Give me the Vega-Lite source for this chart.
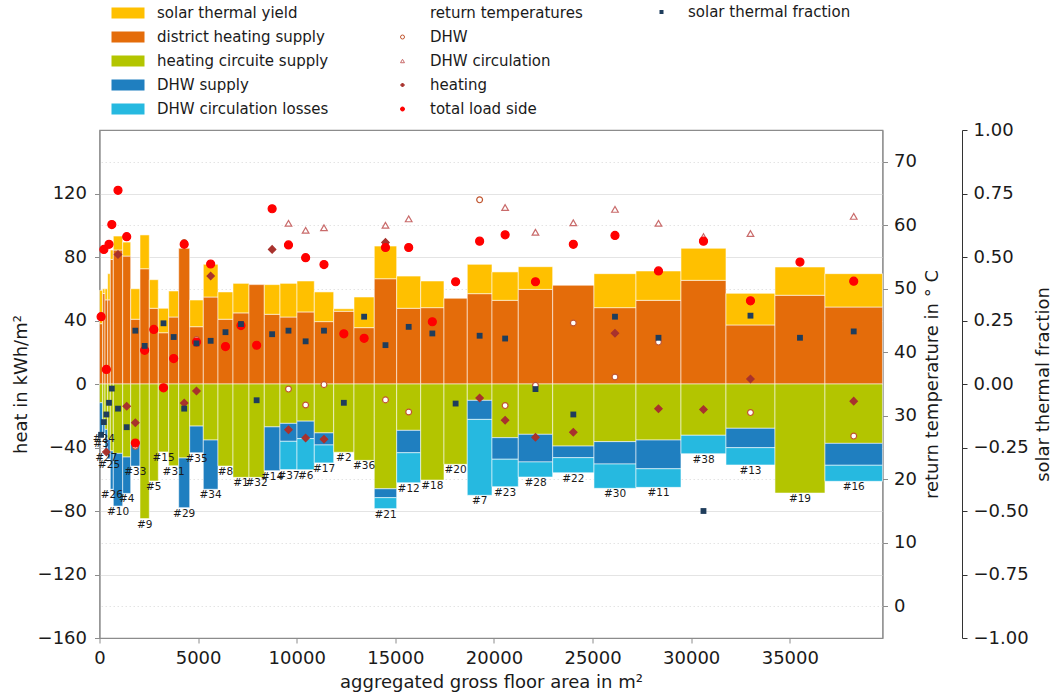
{
  "$schema": "https://vega.github.io/schema/vega-lite/v6.json",
  "width": 783,
  "height": 508,
  "autosize": {"type": "none"},
  "padding": {"left": 99.5, "top": 130, "right": 172.5, "bottom": 59},
  "datasets": {
    "buildings": [
      {"id": "#3", "from": 0, "to": 162, "solar": 21, "district": 38, "heating": -11.8, "hotwater": -22, "losses": 0, "tTotal": 45.6, "frac": -0.2},
      {"id": "#24", "from": 162, "to": 279, "solar": 3, "district": 57, "heating": -22.3, "hotwater": -8.7, "losses": 0, "tTotal": 56.2, "frac": -0.15},
      {"id": "#27", "from": 279, "to": 416, "solar": 7, "district": 53, "heating": -28.6, "hotwater": -14.4, "losses": 0, "tHeating": 24.3, "tTotal": 37.3, "frac": -0.12},
      {"id": "#25", "from": 416, "to": 548, "solar": 16.5, "district": 53, "heating": -35, "hotwater": -12.2, "losses": 0, "tTotal": 57.0, "frac": -0.074},
      {"id": "#26", "from": 548, "to": 700, "solar": 5.9, "district": 78.5, "heating": -42.2, "hotwater": -24.1, "losses": 0, "tTotal": 60.1, "frac": -0.018},
      {"id": "#10", "from": 700, "to": 1176, "solar": 8.8, "district": 84.4, "heating": -43.7, "hotwater": -33.2, "losses": 0, "tHeating": 55.4, "tTotal": 65.5, "frac": -0.097},
      {"id": "#4", "from": 1176, "to": 1582, "solar": 8.8, "district": 80.6, "heating": -46, "hotwater": -22.9, "losses": 0, "tHeating": 31.5, "tTotal": 58.2, "frac": -0.17},
      {"id": "#33", "from": 1582, "to": 2053, "solar": 19.2, "district": 40.8, "heating": -38, "hotwater": -13.7, "losses": 0, "tDHW": 25.2, "tHeating": 28.9, "tTotal": 25.7, "frac": 0.21},
      {"id": "#9", "from": 2053, "to": 2525, "solar": 21.3, "district": 72.6, "heating": -84.8, "hotwater": 0, "losses": 0, "tTotal": 40.3, "frac": 0.15},
      {"id": "#5", "from": 2525, "to": 2981, "solar": 18, "district": 47.7, "heating": -61.1, "hotwater": 0, "losses": 0, "tTotal": 43.6},
      {"id": "#15", "from": 2981, "to": 3508, "solar": 15.4, "district": 32.3, "heating": -42.8, "hotwater": 0, "losses": 0, "tTotal": 34.4, "frac": 0.239},
      {"id": "#31", "from": 3508, "to": 4015, "solar": 16.4, "district": 42.2, "heating": -51.5, "hotwater": 0, "losses": 0, "tTotal": 39.0, "frac": 0.185},
      {"id": "#29", "from": 4015, "to": 4573, "solar": 0, "district": 85.5, "heating": -46.6, "hotwater": -31.3, "losses": 0, "tDHW": 57.3, "tHeating": 32.0, "tTotal": 57.0, "frac": -0.097},
      {"id": "#35", "from": 4573, "to": 5263, "solar": 16.8, "district": 36.1, "heating": -26.5, "hotwater": -16.8, "losses": 0, "tDHW": 42.0, "tHeating": 33.9, "tTotal": 41.6, "frac": 0.16},
      {"id": "#34", "from": 5263, "to": 6008, "solar": 20.6, "district": 54.8, "heating": -35.3, "hotwater": -31, "losses": 0, "tHeating": 52.0, "tTotal": 53.9, "frac": 0.17},
      {"id": "#8", "from": 6008, "to": 6768, "solar": 17.2, "district": 40.8, "heating": -51.7, "hotwater": 0, "losses": 0, "tTotal": 40.9, "frac": 0.204},
      {"id": "#1", "from": 6768, "to": 7580, "solar": 18.6, "district": 44.8, "heating": -58.8, "hotwater": 0, "losses": 0, "tTotal": 44.2, "frac": 0.236},
      {"id": "#32", "from": 7580, "to": 8355, "solar": 0, "district": 62.6, "heating": -58.8, "hotwater": 0, "losses": 0, "tTotal": 41.1, "frac": -0.064},
      {"id": "#14", "from": 8355, "to": 9151, "solar": 18.7, "district": 43.9, "heating": -27, "hotwater": -27.6, "losses": 0, "tHeating": 56.2, "tTotal": 62.6, "frac": 0.196},
      {"id": "#37", "from": 9151, "to": 10013, "solar": 21.2, "district": 42.2, "heating": -24.8, "hotwater": -11.3, "losses": -17.8, "tDHW": 34.2, "tCirc": 60.3, "tHeating": 27.8, "tTotal": 56.9, "frac": 0.21},
      {"id": "#6", "from": 10013, "to": 10890, "solar": 19.5, "district": 45.4, "heating": -23.4, "hotwater": -11, "losses": -19.6, "tDHW": 31.7, "tCirc": 59.2, "tHeating": 26.5, "tTotal": 54.9, "frac": 0.168},
      {"id": "#17", "from": 10890, "to": 11874, "solar": 18.7, "district": 39.3, "heating": -30.8, "hotwater": -7.6, "losses": -11.3, "tDHW": 34.9, "tCirc": 59.6, "tHeating": 26.3, "tTotal": 53.8, "frac": 0.21},
      {"id": "#2", "from": 11874, "to": 12903, "solar": 1.6, "district": 45.8, "heating": -43, "hotwater": 0, "losses": 0, "tTotal": 42.9, "frac": -0.074},
      {"id": "#36", "from": 12903, "to": 13932, "solar": 19.3, "district": 35.5, "heating": -48.1, "hotwater": 0, "losses": 0, "tTotal": 42.2, "frac": 0.265},
      {"id": "#21", "from": 13932, "to": 15068, "solar": 20.6, "district": 66.3, "heating": -66, "hotwater": -5.6, "losses": -6.9, "tDHW": 32.5, "tCirc": 60.0, "tHeating": 57.3, "tTotal": 56.5, "frac": 0.153},
      {"id": "#12", "from": 15068, "to": 16285, "solar": 20.3, "district": 47.7, "heating": -29.2, "hotwater": -14.1, "losses": -18.9, "tDHW": 30.6, "tCirc": 61.0, "tTotal": 56.5, "frac": 0.225},
      {"id": "#18", "from": 16285, "to": 17466, "solar": 16.8, "district": 48.1, "heating": -60.5, "hotwater": 0, "losses": 0, "tTotal": 44.8, "frac": 0.199},
      {"id": "#20", "from": 17466, "to": 18647, "solar": 0, "district": 54, "heating": -50.6, "hotwater": 0, "losses": 0, "tTotal": 51.1, "frac": -0.077},
      {"id": "#7", "from": 18647, "to": 19900, "solar": 18.5, "district": 56.9, "heating": -10.3, "hotwater": -12, "losses": -47.8, "tDHW": 64.0, "tHeating": 32.8, "tTotal": 57.5, "frac": 0.19},
      {"id": "#23", "from": 19900, "to": 21233, "solar": 17.9, "district": 52.7, "heating": -33.8, "hotwater": -13.6, "losses": -17.3, "tDHW": 31.6, "tCirc": 62.8, "tHeating": 29.3, "tTotal": 58.5, "frac": 0.179},
      {"id": "#28", "from": 21233, "to": 22977, "solar": 14.3, "district": 59.6, "heating": -31.7, "hotwater": -17.4, "losses": -9.5, "tDHW": 34.8, "tCirc": 58.9, "tHeating": 26.6, "tTotal": 51.1, "frac": -0.02},
      {"id": "#22", "from": 22977, "to": 25071, "solar": 0, "district": 62.2, "heating": -39.1, "hotwater": -7.3, "losses": -9.5, "tDHW": 44.6, "tCirc": 60.4, "tHeating": 27.4, "tTotal": 57.0, "frac": -0.12},
      {"id": "#30", "from": 25071, "to": 27201, "solar": 21.4, "district": 48.1, "heating": -36.3, "hotwater": -14.1, "losses": -15.3, "tDHW": 36.1, "tCirc": 62.5, "tHeating": 43.0, "tTotal": 58.4, "frac": 0.265},
      {"id": "#11", "from": 27201, "to": 29482, "solar": 18.5, "district": 52.7, "heating": -35.3, "hotwater": -18.1, "losses": -11.7, "tDHW": 41.6, "tCirc": 60.3, "tHeating": 31.1, "tTotal": 52.8, "frac": 0.182},
      {"id": "#38", "from": 29482, "to": 31764, "solar": 20.2, "district": 65.3, "heating": -32.3, "hotwater": 0, "losses": -11.6, "tCirc": 58.2, "tHeating": 31.0, "tTotal": 57.5, "frac": -0.5},
      {"id": "#13", "from": 31764, "to": 34248, "solar": 19.9, "district": 37.2, "heating": -27.9, "hotwater": -12.2, "losses": -10.9, "tDHW": 30.5, "tCirc": 58.7, "tHeating": 35.8, "tTotal": 48.1, "frac": 0.269},
      {"id": "#19", "from": 34248, "to": 36783, "solar": 17.8, "district": 55.9, "heating": -68.7, "hotwater": 0, "losses": 0, "tTotal": 54.2, "frac": 0.182},
      {"id": "#16", "from": 36783, "to": 39698, "solar": 21, "district": 48.5, "heating": -37.4, "hotwater": -13.8, "losses": -10.1, "tDHW": 26.8, "tCirc": 61.4, "tHeating": 32.3, "tTotal": 51.2, "frac": 0.207}
    ]
  },
  "data": {"name": "buildings"},
  "transform": [
    {"calculate": "(datum.from + datum.to) / 2", "as": "mid"},
    {"calculate": "datum.heating + datum.hotwater + datum.losses", "as": "bottom"}
  ],
  "layer": [
    {
      "transform": [
        {"fold": ["district", "solar", "heating", "hotwater", "losses"], "as": ["part", "heat"]},
        {"filter": "datum.heat != 0"},
        {"stack": "heat", "groupby": ["id"], "sort": [{"field": "part", "order": "ascending"}], "as": ["lo", "hi"]}
      ],
      "mark": {"type": "rect", "stroke": "#ffffff", "strokeOpacity": 0.55, "strokeWidth": 1},
      "encoding": {
        "x": {"field": "from", "type": "quantitative", "scale": {"domain": [0, 39700], "nice": false, "zero": false},
              "title": "aggregated gross floor area in m²",
              "axis": {"values": [0, 5000, 10000, 15000, 20000, 25000, 30000, 35000], "format": "d", "grid": false, "labelFlush": false, "titlePadding": 6}},
        "x2": {"field": "to"},
        "y": {"field": "lo", "type": "quantitative", "scale": {"domain": [-160, 160], "nice": false, "zero": false},
              "title": "heat in kWh/m²",
              "axis": {"orient": "left", "values": [-160, -120, -80, -40, 0, 40, 80, 120], "grid": true, "gridColor": "#e4e4e4", "labelFlush": false, "labelPadding": 8, "titlePadding": 7}},
        "y2": {"field": "hi"},
        "fill": {"field": "part", "type": "nominal",
                 "scale": {"domain": ["solar", "district", "heating", "hotwater", "losses"], "range": ["#ffc000", "#e46c0a", "#b3c500", "#1f7fc0", "#26b9e0"]},
                 "legend": {"orient": "none", "legendX": 18.5, "legendY": -127, "title": null, "direction": "vertical",
                            "symbolType": "M-1.65,-0.55H1.65V0.55H-1.65Z", "symbolSize": 400, "symbolStrokeWidth": 0,
                            "labelOffset": 19, "rowPadding": 6, "labelFontSize": 15, "labelLimit": 400,
                            "labelExpr": "{'solar': 'solar thermal yield', 'district': 'district heating supply', 'heating': 'heating circuite supply', 'hotwater': 'DHW supply', 'losses': 'DHW circulation losses'}[datum.label]"}}
      }
    },
    {
      "mark": {"type": "text", "baseline": "top", "align": "center", "dy": 1, "fontSize": 10.5, "color": "#1a1a1a"},
      "encoding": {
        "x": {"field": "mid", "type": "quantitative", "title": "aggregated gross floor area in m²"},
        "y": {"field": "bottom", "type": "quantitative", "scale": {"domain": [-160, 160], "nice": false, "zero": false}, "axis": null},
        "text": {"field": "id"}
      }
    },
    {
      "transform": [
        {"fold": ["tDHW", "tCirc", "tHeating", "tTotal"], "as": ["kind", "temp"]},
        {"filter": "isValid(datum.temp)"}
      ],
      "mark": {"type": "point", "filled": true, "strokeWidth": 1.2, "opacity": 1},
      "encoding": {
        "x": {"field": "mid", "type": "quantitative", "title": "aggregated gross floor area in m²"},
        "y": {"field": "temp", "type": "quantitative", "scale": {"domain": [-5, 75], "nice": false, "zero": false},
              "title": "return temperature in ° C",
              "axis": {"orient": "right", "values": [0, 10, 20, 30, 40, 50, 60, 70], "grid": true, "gridColor": "#e4e4e4", "gridDash": [1.5, 2.5], "labelFlush": false, "labelPadding": 6, "titleAngle": 270, "titlePadding": 25}},
        "shape": {"field": "kind", "type": "nominal",
                  "scale": {"domain": ["head", "tDHW", "tCirc", "tHeating", "tTotal"], "range": ["circle", "circle", "triangle-up", "diamond", "circle"]},
                  "legend": {"orient": "none", "legendX": 295.5, "legendY": -124.5, "title": null, "direction": "vertical",
                             "symbolSize": 16, "labelOffset": 20, "rowPadding": 8, "labelFontSize": 15, "labelLimit": 400, "symbolStrokeWidth": 1,
                             "labelExpr": "{'head': 'return temperatures', 'tDHW': 'DHW', 'tCirc': 'DHW circulation', 'tHeating': 'heating', 'tTotal': 'total load side'}[datum.label]"}},
        "fill": {"field": "kind", "type": "nominal",
                 "scale": {"domain": ["head", "tDHW", "tCirc", "tHeating", "tTotal"], "range": ["transparent", "#ffffff", "#ffffff", "#a8322d", "#ff0000"]},
                 "legend": {"orient": "none", "legendX": 295.5, "legendY": -124.5, "title": null, "direction": "vertical",
                            "symbolSize": 16, "labelOffset": 20, "rowPadding": 8, "labelFontSize": 15, "labelLimit": 400, "symbolStrokeWidth": 1,
                            "labelExpr": "{'head': 'return temperatures', 'tDHW': 'DHW', 'tCirc': 'DHW circulation', 'tHeating': 'heating', 'tTotal': 'total load side'}[datum.label]"}},
        "stroke": {"field": "kind", "type": "nominal",
                   "scale": {"domain": ["head", "tDHW", "tCirc", "tHeating", "tTotal"], "range": ["transparent", "#c0552f", "#c96b6b", "#a8322d", "#ff0000"]},
                   "legend": {"orient": "none", "legendX": 295.5, "legendY": -124.5, "title": null, "direction": "vertical",
                              "symbolSize": 16, "labelOffset": 20, "rowPadding": 8, "labelFontSize": 15, "labelLimit": 400, "symbolStrokeWidth": 1,
                              "labelExpr": "{'head': 'return temperatures', 'tDHW': 'DHW', 'tCirc': 'DHW circulation', 'tHeating': 'heating', 'tTotal': 'total load side'}[datum.label]"}},
        "size": {"field": "kind", "type": "ordinal",
                 "scale": {"domain": ["tTotal", "tHeating", "tCirc", "tDHW"], "range": [64, 34, 22, 20]}, "legend": null}
      }
    },
    {
      "mark": {"type": "square", "size": 34, "opacity": 1},
      "encoding": {
        "x": {"field": "mid", "type": "quantitative", "title": "aggregated gross floor area in m²"},
        "y": {"field": "frac", "type": "quantitative", "scale": {"domain": [-1, 1], "nice": false, "zero": false},
              "title": "solar thermal fraction",
              "axis": {"orient": "right", "offset": 79.5, "values": [-1, -0.75, -0.5, -0.25, 0, 0.25, 0.5, 0.75, 1], "format": ".2f", "grid": false,
                       "domainColor": "#333333", "tickColor": "#333333", "labelFlush": false, "labelPadding": 6, "titleAngle": 270, "titlePadding": 24}},
        "fill": {"datum": "solar thermal fraction", "type": "nominal",
                 "scale": {"range": ["#1f3d5c"]},
                 "legend": {"orient": "none", "legendX": 554.5, "legendY": -125.5, "title": null,
                            "symbolType": "square", "symbolSize": 16, "labelOffset": 19, "labelFontSize": 15, "labelLimit": 400}}
      }
    }
  ],
  "resolve": {
    "scale": {"y": "independent", "fill": "independent", "stroke": "independent", "shape": "independent", "size": "independent"},
    "axis": {"y": "independent"}
  },
  "config": {
    "font": "DejaVu Sans",
    "view": {"stroke": "#8c8c8c", "strokeWidth": 1.2},
    "axis": {"labelFontSize": 18, "titleFontSize": 18, "titleFontWeight": "normal", "labelColor": "#1a1a1a", "titleColor": "#1a1a1a",
             "domainColor": "#8c8c8c", "tickColor": "#8c8c8c", "tickSize": 5, "labelPadding": 6},
    "legend": {"labelFontSize": 15, "labelColor": "#1a1a1a", "padding": 0, "titlePadding": 0, "rowPadding": 6}
  }
}
